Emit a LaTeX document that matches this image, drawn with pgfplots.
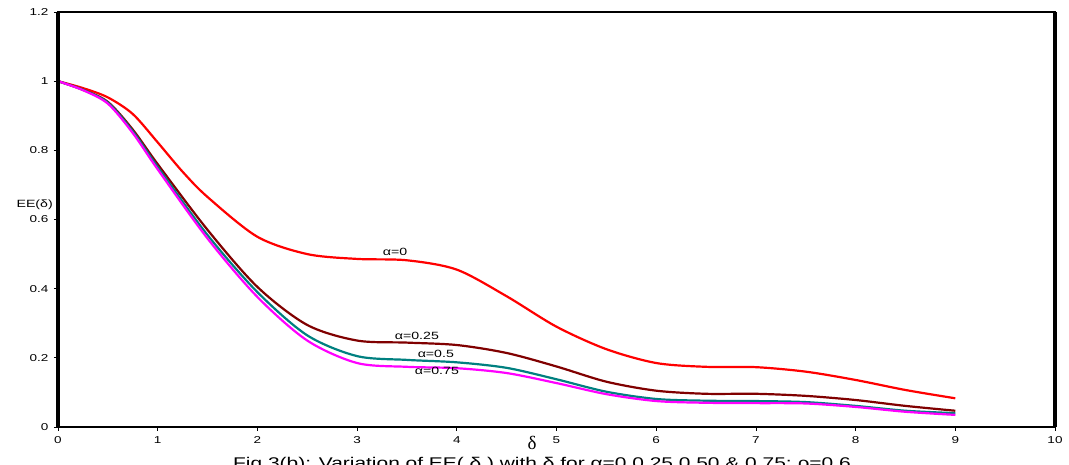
\documentclass[border=0pt]{standalone}
\usepackage{pgfplots}
\pgfplotsset{compat=1.18}
\usepackage{fontspec}
\setmainfont{Liberation Sans}[FakeStretch=1.35]
\newfontfamily\seriffont{Liberation Serif}
\definecolor{cred}{RGB}{255,0,0}
\definecolor{cbrown}{RGB}{128,0,0}
\definecolor{cteal}{RGB}{0,128,128}
\definecolor{cmag}{RGB}{255,0,255}
\begin{document}
\begin{tikzpicture}[x=1pt,y=1pt]
\begin{axis}[
  at={(0,0)}, anchor=south west,
  scale only axis, width=997pt, height=415pt,
  xmin=0, xmax=10, ymin=0, ymax=1.2,
  xtick={0,1,...,10}, ytick={0,0.2,0.4,0.6,0.8,1,1.2},
  yticklabels={0,0.2,0.4,0.6,0.8,1,1.2},
  xticklabels={0,1,2,3,4,5,6,7,8,9,10},
  tick align=outside, tick pos=left,
  major tick length=4pt,
  tick style={black, line width=0.8pt},
  ticklabel style={font=\fontsize{10}{12}\selectfont},
  xticklabel style={yshift=-2pt},
  yticklabel style={xshift=-2pt},
  axis line style={black, line width=2pt},
  clip=false,
  every axis plot/.append style={line width=2.2pt, smooth},
]
\addplot[cred] coordinates {(0,1) (0.25,0.98) (0.5,0.953) (0.75,0.905) (1,0.823) (1.25,0.738) (1.5,0.665) (2,0.55) (2.5,0.5) (3,0.486) (3.5,0.482) (4,0.455) (4.5,0.378) (5,0.29) (5.5,0.225) (6,0.185) (6.5,0.174) (7,0.173) (7.5,0.16) (8,0.136) (8.5,0.107) (9,0.083)};
\addplot[cbrown] coordinates {(0,1) (0.25,0.975) (0.5,0.94) (0.75,0.86) (1,0.76) (1.5,0.57) (2,0.405) (2.5,0.295) (3,0.25) (3.5,0.244) (4,0.237) (4.5,0.214) (5,0.175) (5.5,0.131) (6,0.105) (6.5,0.096) (7,0.096) (7.5,0.09) (8,0.078) (8.5,0.061) (9,0.047)};
\addplot[cteal] coordinates {(0,1) (0.25,0.975) (0.5,0.938) (0.75,0.855) (1,0.752) (1.5,0.555) (2,0.39) (2.5,0.265) (3,0.205) (3.5,0.194) (4,0.187) (4.5,0.171) (5,0.138) (5.5,0.102) (6,0.081) (6.5,0.076) (7,0.075) (7.5,0.072) (8,0.061) (8.5,0.047) (9,0.04)};
\addplot[cmag] coordinates {(0,1) (0.25,0.974) (0.5,0.935) (0.75,0.85) (1,0.745) (1.5,0.545) (2,0.376) (2.5,0.25) (3,0.185) (3.5,0.174) (4,0.17) (4.5,0.156) (5,0.127) (5.5,0.095) (6,0.075) (6.5,0.07) (7,0.069) (7.5,0.068) (8,0.058) (8.5,0.044) (9,0.035)};
\draw[black, line width=4pt] (rel axis cs:0,0) -- (rel axis cs:0,1);
\draw[black, line width=4pt] (rel axis cs:1,0) -- (rel axis cs:1,1);
\node[font=\fontsize{10.5}{12}\selectfont] at (axis cs:3.38,0.506) {α=0};
\node[font=\fontsize{10.5}{12}\selectfont] at (axis cs:3.6,0.263) {α=0.25};
\node[font=\fontsize{10.5}{12}\selectfont] at (axis cs:3.79,0.211) {α=0.5};
\node[font=\fontsize{10.5}{12}\selectfont] at (axis cs:3.8,0.162) {α=0.75};
\node[font=\fontsize{10.5}{12}\selectfont, anchor=east, xshift=-5pt, inner sep=0pt] at (axis cs:0,0.642) {EE(δ)};
\end{axis}
\node[font=\seriffont\fontsize{19}{21}\selectfont] at (474pt,-16pt) {δ};
\node[font=\fontsize{15.5}{17}\selectfont, anchor=base] at (484pt,-41.5pt) {Fig.3(b): Variation of EE( δ ) with δ for α=0,0.25,0.50 \& 0.75; ρ=0.6};
\pgfresetboundingbox
\useasboundingbox (-58pt,-38pt) rectangle (1011pt,427pt);
\end{tikzpicture}
\end{document}
